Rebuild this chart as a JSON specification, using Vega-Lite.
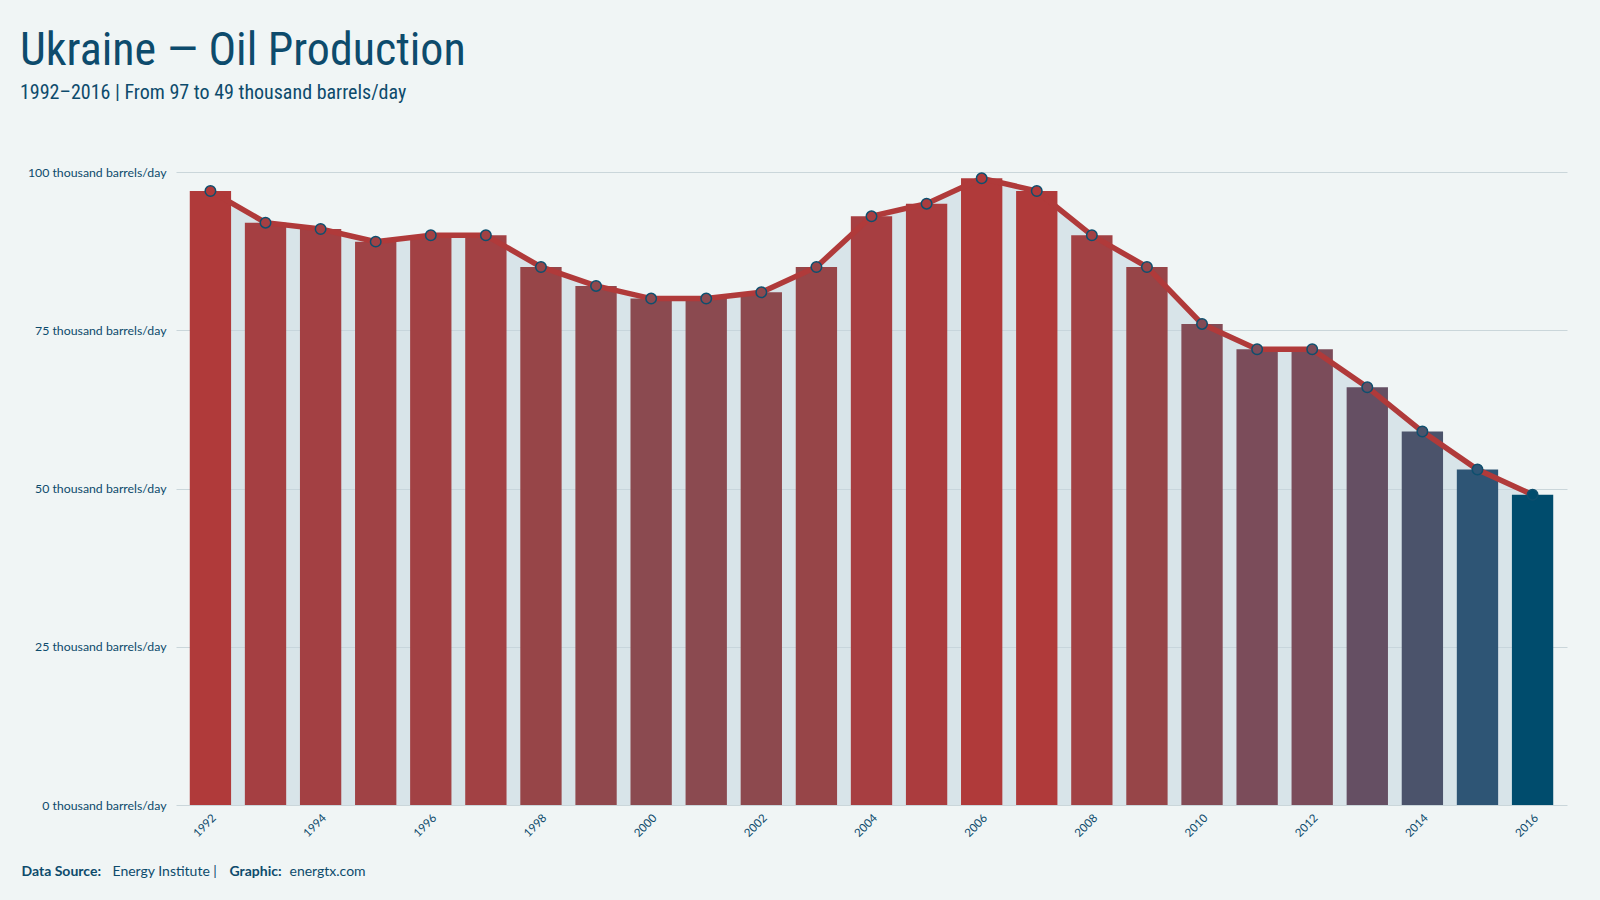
{
  "$schema": "https://vega.github.io/schema/vega-lite/v6.json",
  "width": 1391,
  "height": 633,
  "autosize": {"type": "none"},
  "padding": {"left": 176, "top": 172, "right": 33, "bottom": 95},
  "background": "#f0f5f5",
  "title": {
    "text": "Ukraine — Oil Production",
    "subtitle": "1992–2016 | From 97 to 49 thousand barrels/day",
    "anchor": "start",
    "frame": "group",
    "dx": -156,
    "offset": 62,
    "font": "Liberation Sans Narrow, Roboto Condensed, DejaVu Sans Condensed, sans-serif",
    "fontSize": 46,
    "fontWeight": "normal",
    "color": "#0d4b6c",
    "subtitleFont": "Liberation Sans Narrow, Roboto Condensed, DejaVu Sans Condensed, sans-serif",
    "subtitleFontSize": 20,
    "subtitleColor": "#0d4b6c",
    "subtitlePadding": 8
  },
  "config": {
    "view": {"stroke": null},
    "font": "Lato",
    "axis": {
      "labelFont": "Lato",
      "titleFont": "Lato",
      "labelColor": "#0d4b6c",
      "titleColor": "#0d4b6c",
      "titleFontSize": 14
    }
  },
  "data": {
    "values": [
      {"year": 1992, "production": 97},
      {"year": 1993, "production": 92},
      {"year": 1994, "production": 91},
      {"year": 1995, "production": 89},
      {"year": 1996, "production": 90},
      {"year": 1997, "production": 90},
      {"year": 1998, "production": 85},
      {"year": 1999, "production": 82},
      {"year": 2000, "production": 80},
      {"year": 2001, "production": 80},
      {"year": 2002, "production": 81},
      {"year": 2003, "production": 85},
      {"year": 2004, "production": 93},
      {"year": 2005, "production": 95},
      {"year": 2006, "production": 99},
      {"year": 2007, "production": 97},
      {"year": 2008, "production": 90},
      {"year": 2009, "production": 85},
      {"year": 2010, "production": 76},
      {"year": 2011, "production": 72},
      {"year": 2012, "production": 72},
      {"year": 2013, "production": 66},
      {"year": 2014, "production": 59},
      {"year": 2015, "production": 53},
      {"year": 2016, "production": 49}
    ]
  },
  "resolve": {"axis": {"x": "independent", "y": "independent"}},
  "layer": [
    {
      "mark": {"type": "area", "interpolate": "linear", "color": "#c5d6de", "opacity": 0.55},
      "encoding": {
        "x": {
          "field": "year",
          "type": "ordinal",
          "axis": {
            "orient": "bottom",
            "title": "Energy Institute |",
            "labels": false, "ticks": false, "domain": false, "grid": false,
            "titleX": -64, "titleY": 70,
            "titleAlign": "left", "titleBaseline": "alphabetic",
            "titleFontWeight": "normal"
          }
        },
        "y": {
          "field": "production",
          "type": "quantitative",
          "axis": {
            "orient": "left",
            "title": "energtx.com",
            "labels": false, "ticks": false, "domain": false, "grid": false,
            "titleAngle": 0, "titleX": 113, "titleY": 703,
            "titleAlign": "left", "titleBaseline": "alphabetic",
            "titleFontWeight": "normal"
          }
        }
      }
    },
    {
      "mark": {"type": "bar"},
      "encoding": {
        "x": {
          "field": "year",
          "type": "ordinal",
          "scale": {"paddingInner": 0.25, "paddingOuter": 0.25},
          "axis": {
            "orient": "bottom",
            "title": "Data Source:",
            "values": [1992, 1994, 1996, 1998, 2000, 2002, 2004, 2006, 2008, 2010, 2012, 2014, 2016],
            "labelAngle": -45,
            "labelFontSize": 11.5,
            "labelPadding": 7,
            "ticks": false, "domain": false, "grid": false,
            "titleX": -155, "titleY": 70,
            "titleAlign": "left", "titleBaseline": "alphabetic",
            "titleFontWeight": "bold"
          }
        },
        "y": {
          "field": "production",
          "type": "quantitative",
          "scale": {"domain": [0, 100]},
          "axis": {
            "orient": "left",
            "values": [0, 25, 50, 75, 100],
            "labelExpr": "datum.value + ' thousand barrels/day'",
            "labelFontSize": 12.3,
            "labelPadding": 10,
            "ticks": false, "domain": false,
            "grid": true, "gridColor": "#cad6da", "gridWidth": 1,
            "title": "Graphic:",
            "titleAngle": 0, "titleX": 53, "titleY": 703,
            "titleAlign": "left", "titleBaseline": "alphabetic",
            "titleFontWeight": "bold"
          }
        },
        "color": {
          "field": "production",
          "type": "quantitative",
          "legend": null,
          "scale": {
            "domain": [49, 53, 59, 66, 72, 80, 85, 89, 92, 95, 97],
            "range": ["#004c6d", "#2e5575", "#4b536b", "#654f63", "#7b4c5a", "#8b4a50", "#974548", "#a04245", "#a53f42", "#ab3c3e", "#b03a3a"],
            "interpolate": "rgb",
            "clamp": true
          }
        }
      }
    },
    {
      "mark": {"type": "line", "interpolate": "linear", "color": "#b03a3a", "strokeWidth": 5.5},
      "encoding": {
        "x": {"field": "year", "type": "ordinal", "axis": null},
        "y": {"field": "production", "type": "quantitative", "axis": null}
      }
    },
    {
      "mark": {"type": "point", "filled": true, "size": 110, "stroke": "#0e4f6e", "strokeWidth": 1.5, "opacity": 1},
      "encoding": {
        "x": {"field": "year", "type": "ordinal", "axis": null},
        "y": {"field": "production", "type": "quantitative", "axis": null},
        "color": {"field": "production", "type": "quantitative", "legend": null}
      }
    }
  ]
}
